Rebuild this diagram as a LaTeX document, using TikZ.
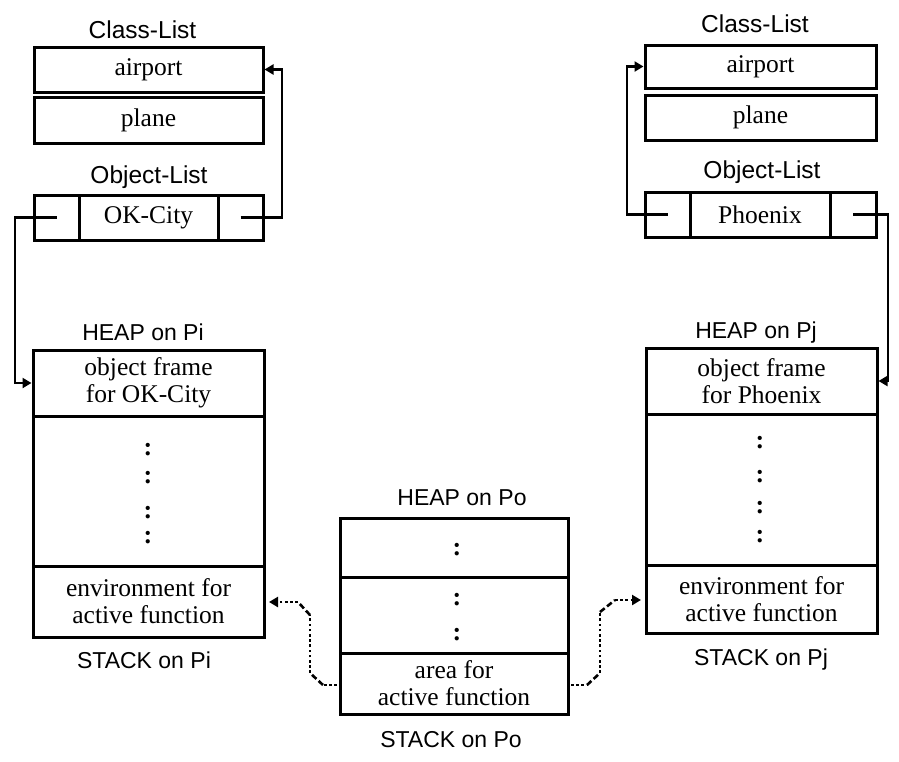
\documentclass[tikz,border=0pt]{standalone}
\usepackage{fontspec}
\setmainfont{Liberation Serif}
\setsansfont{Liberation Sans}
\usetikzlibrary{arrows.meta,calc}
\begin{document}
\begin{tikzpicture}[x=1pt,y=-1pt,
  box/.style={draw, line width=3pt, inner sep=0pt, outer sep=0pt, align=center, font=\fontsize{25.5}{27}\selectfont},
  lbl/.style={font=\sffamily\fontsize{23}{27}\selectfont, inner sep=0pt},
  biglbl/.style={font=\sffamily\fontsize{24.5}{27}\selectfont, inner sep=0pt},
  arr/.style={line width=2.6pt, -{Triangle[length=9pt,width=10pt]}, shorten >=1.5pt},
  dotln/.style={line width=2.6pt, dash pattern=on 2.6pt off 2.6pt},
  dshln/.style={line width=2.6pt, dash pattern=on 6pt off 3pt},
  colon/.style={font=\bfseries\fontsize{26}{27}\selectfont, inner sep=0pt}]
\useasboundingbox (0,0) rectangle (899,761);

% ---------- left column ----------
\node[biglbl] (lclt) at (142.5,30) {Class-List};
\node[box, minimum width=229pt, minimum height=45pt] (lca) at (148.5,69.5) {airport};
\node[box, minimum width=229pt, minimum height=46pt] (lcp) at (148.5,120) {plane};
\node[biglbl] (lolt) at (149,177) {Object-List};
\node[box, minimum width=45pt, minimum height=45pt] (loL) at (56.5,217.5) {};
\node[box, minimum width=139pt, minimum height=45pt] (loM) at (148.5,217.5) {OK-City};
\node[box, minimum width=45pt, minimum height=45pt] (loR) at (240.5,217.5) {};

\node[lbl] (lhl) at (143,332) {HEAP on Pi};
\node[box, minimum width=231pt, minimum height=66pt] (lof) at (148.5,383) {object frame\\for OK-City};
\node[box, minimum width=231pt, minimum height=150pt] (lmid) at (148.5,491) {};
\node[box, minimum width=231pt, minimum height=71pt] (lenv) at (148.5,601.5) {environment for\\active function};
\node[colon] (lc1) at (148,450) {:};
\node[colon] (lc2) at (148,478) {:};
\node[colon] (lc3) at (148,513) {:};
\node[colon] (lc4) at (148,538) {:};
\node[lbl] (lsl) at (144,660) {STACK on Pi};

% ---------- right column ----------
\node[biglbl] (rclt) at (755,24) {Class-List};
\node[box, minimum width=231pt, minimum height=43pt] (rca) at (760.5,66.5) {airport};
\node[box, minimum width=231pt, minimum height=45pt] (rcp) at (760.5,117.5) {plane};
\node[biglbl] (rolt) at (762,172) {Object-List};
\node[box, minimum width=45pt, minimum height=45pt] (roL) at (667.5,214.5) {};
\node[box, minimum width=140pt, minimum height=45pt] (roM) at (760,214.5) {Phoenix};
\node[box, minimum width=46pt, minimum height=45pt] (roR) at (853,214.5) {};

\node[lbl] (rhl) at (756,333) {HEAP on Pj};
\node[box, minimum width=231pt, minimum height=66pt] (rof) at (761.5,381) {object frame\\for Phoenix};
\node[box, minimum width=231pt, minimum height=151pt] (rmid) at (761.5,489.5) {};
\node[box, minimum width=231pt, minimum height=68pt] (renv) at (761.5,599) {environment for\\active function};
\node[colon] (rc1) at (760,443) {:};
\node[colon] (rc2) at (760,477) {:};
\node[colon] (rc3) at (760,508) {:};
\node[colon] (rc4) at (760,537) {:};
\node[lbl] (rsl) at (761,660) {STACK on Pj};

% ---------- middle ----------
\node[lbl] (mhl) at (462,498) {HEAP on Po};
\node[box, minimum width=228pt, minimum height=59pt] (mtop) at (454,547.5) {};
\node[box, minimum width=228pt, minimum height=76pt] (mmid) at (454,615) {};
\node[box, minimum width=228pt, minimum height=61pt] (marea) at (454,683.5) {area for\\active function};
\node[colon] (mc1) at (457,550) {:};
\node[colon] (mc2) at (457,600) {:};
\node[colon] (mc3) at (457,635) {:};
\node[lbl] (msl) at (451,740) {STACK on Po};

% ---------- solid connectors ----------
\draw[arr] (loR.center) -- ++(41.5,0) |- (lca.east);
\draw[arr] (loL.center) -- ++(-41.5,0) |- (lof.west);
\draw[arr] (roL.center) -- ++(-40.5,0) |- (rca.west);
\draw[arr] (roR.center) -- ++(35,0) |- (rof.east);

% ---------- dotted connectors ----------
\coordinate (pl1) at (323,685);
\coordinate (pl2) at (310,673);
\coordinate (pl3) at (310,615);
\coordinate (pl4) at (298,602);
\draw[dotln, shorten <=3pt] (marea.west |- pl1) -- (pl1);
\draw[dshln] (pl1) -- (pl2);
\draw[dotln] (pl2) -- (pl3);
\draw[dshln] (pl3) -- (pl4);
\draw[dotln, -{Triangle[length=9pt,width=10pt]}, shorten >=5pt] (pl4) -- (lenv.east |- pl4);

\coordinate (pr1) at (587,685);
\coordinate (pr2) at (600,673);
\coordinate (pr3) at (600,612);
\coordinate (pr4) at (615,600);
\draw[dotln, shorten <=3pt] (marea.east |- pr1) -- (pr1);
\draw[dshln] (pr1) -- (pr2);
\draw[dotln] (pr2) -- (pr3);
\draw[dshln] (pr3) -- (pr4);
\draw[dotln, -{Triangle[length=9pt,width=10pt]}, shorten >=5pt] (pr4) -- (renv.west |- pr4);
\end{tikzpicture}
\end{document}
